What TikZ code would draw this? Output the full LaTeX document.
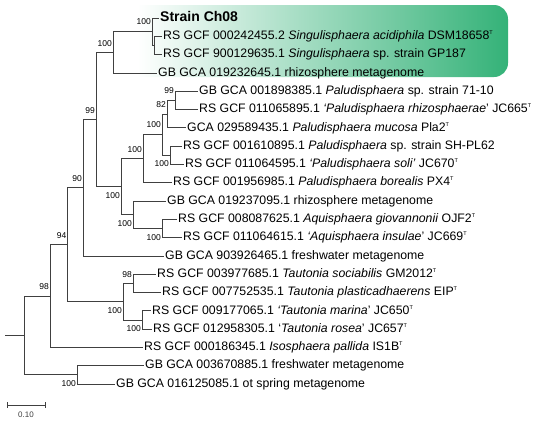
\documentclass[tikz,border=0pt]{standalone}
\usepackage{fontspec}
\setmainfont{Liberation Sans}
\usetikzlibrary{positioning}
\definecolor{cladegreen}{RGB}{52,178,120}
\pgfdeclarehorizontalshading{cladefade}{100bp}{color(0bp)=(white); color(29bp)=(white);
color(75bp)=(cladegreen); color(100bp)=(cladegreen)}
\tikzstyle{leaf} = [anchor=west, inner sep=1.5pt, text height=9pt, text depth=2.6pt,
font=\fontsize{12.3}{14}\selectfont]
\tikzstyle{boot} = [anchor=east, inner sep=1pt, font=\fontsize{8.5}{9}\selectfont]
\tikzstyle{bsup} = [boot, yshift=9pt]
\tikzstyle{bsdown} = [boot, yshift=-8.7pt]
\tikzstyle{branch} = [draw, line width=0.8pt, black!75]
\newcommand{\tstrain}{\raisebox{5pt}{\fontsize{5.5}{6}\selectfont T}}

\begin{document}
\begin{tikzpicture}[x=1pt, y=-1pt]
	\useasboundingbox (0,0) rectangle (550,424);
	
	% Highlighted clade
	\shade[shading=cladefade, rounded corners=14pt] (105,5) rectangle (508,77);
	
	% Internal nodes
	\coordinate (stem) at (5,335.4);
	\coordinate (root) at (24,335.4);
	\coordinate (n98a) at (50,296);
	\coordinate (nout) at (77,374.85);
	\coordinate (n94) at (67.5,244.7);
	\coordinate (n90) at (83,187.7);
	\coordinate (n99) at (96,119.5);
	\coordinate (nsing) at (113,52.3);
	\coordinate (nch) at (152,31.7);
	\coordinate (nsa) at (154.5,45.45);
	\coordinate (npa) at (121,186.7);
	\coordinate (npal) at (143,158.7);
	\coordinate (ncrown) at (162,134.7);
	\coordinate (n82) at (167,114.1);
	\coordinate (n99b) at (175,100.35);
	\coordinate (nsoli) at (170,155.25);
	\coordinate (naq) at (133,214.7);
	\coordinate (naqgen) at (162,228.45);
	\coordinate (ntau) at (123,301.65);
	\coordinate (n98b) at (133,283.35);
	\coordinate (nmr) at (142,319.95);
	
	% Leaves
	\node [leaf, font=\fontsize{14}{16}\selectfont\bfseries] (ch08) at (158.5,18) {Strain Ch08};
	\node [leaf] (sacid) at (161.5,36.3) {RS GCF 000242455.2 \textit{Singulisphaera acidiphila} DSM18658\tstrain};
	\node [leaf] (sgp) at (161.5,54.6) {RS GCF 900129635.1 \textit{Singulisphaera} sp. strain GP187};
	\node [leaf] (rhizoa) at (156.5,72.9) {GB GCA 019232645.1 rhizosphere metagenome};
	\node [leaf] (p7110) at (197.5,91.2) {GB GCA 001898385.1 \textit{Paludisphaera} sp. strain 71-10};
	\node [leaf] (prhizo) at (197.5,109.5) {RS GCF 011065895.1 \textit{‘Paludisphaera rhizosphaerae}’ JC665\tstrain};
	\node [leaf] (pmuc) at (185.5,127.8) {GCA 029589435.1 \textit{Paludisphaera mucosa} Pla2\tstrain};
	\node [leaf] (psh) at (181.5,146.1) {RS GCF 001610895.1 \textit{Paludisphaera} sp. strain SH-PL62};
	\node [leaf] (psoli) at (183.5,164.4) {RS GCF 011064595.1 \textit{‘Paludisphaera soli’} JC670\tstrain};
	\node [leaf] (pbor) at (171.5,182.7) {RS GCF 001956985.1 \textit{Paludisphaera borealis} PX4\tstrain};
	\node [leaf] (rhizob) at (165.5,201) {GB GCA 019237095.1 rhizosphere metagenome};
	\node [leaf] (agio) at (176.5,219.3) {RS GCF 008087625.1 \textit{Aquisphaera giovannonii} OJF2\tstrain};
	\node [leaf] (ains) at (181.5,237.6) {RS GCF 011064615.1 \textit{‘Aquisphaera insulae}’ JC669\tstrain};
	\node [leaf] (fresha) at (163.5,255.9) {GB GCA 903926465.1 freshwater metagenome};
	\node [leaf] (tsoc) at (155.5,274.2) {RS GCF 003977685.1 \textit{Tautonia sociabilis} GM2012\tstrain};
	\node [leaf] (tpla) at (160.5,292.5) {RS GCF 007752535.1 \textit{Tautonia plasticadhaerens} EIP\tstrain};
	\node [leaf] (tmar) at (150.5,310.8) {RS GCF 009177065.1 \textit{‘Tautonia marina}’ JC650\tstrain};
	\node [leaf] (tros) at (151.5,329.1) {RS GCF 012958305.1 ‘\textit{Tautonia rosea}’ JC657\tstrain};
	\node [leaf] (ipal) at (142.5,347.4) {RS GCF 000186345.1 \textit{Isosphaera pallida} IS1B\tstrain};
	\node [leaf] (freshb) at (143.5,365.7) {GB GCA 003670885.1 freshwater metagenome};
	\node [leaf] (hotsp) at (114.5,384) {GB GCA 016125085.1 ot spring metagenome};
	
	% Branches
	\path [branch] (stem) -- (root);
	\path [branch] (root) |- (n98a);
	\path [branch] (root) |- (nout);
	\path [branch] (nout) |- (freshb.west);
	\path [branch] (nout) |- (hotsp.west);
	\path [branch] (n98a) |- (n94);
	\path [branch] (n98a) |- (ipal.west);
	\path [branch] (n94) |- (n90);
	\path [branch] (n94) |- (ntau);
	\path [branch] (ntau) |- (n98b);
	\path [branch] (ntau) |- (nmr);
	\path [branch] (n98b) |- (tsoc.west);
	\path [branch] (n98b) |- (tpla.west);
	\path [branch] (nmr) |- (tmar.west);
	\path [branch] (nmr) |- (tros.west);
	\path [branch] (n90) |- (n99);
	\path [branch] (n90) |- (fresha.west);
	\path [branch] (n99) |- (nsing);
	\path [branch] (n99) |- (npa);
	\path [branch] (nsing) |- (nch);
	\path [branch] (nsing) |- (rhizoa.west);
	\path [branch] (nch) |- (ch08.west);
	\path [branch] (nch) |- (nsa);
	\path [branch] (nsa) |- (sacid.west);
	\path [branch] (nsa) |- (sgp.west);
	\path [branch] (npa) |- (npal);
	\path [branch] (npa) |- (naq);
	\path [branch] (npal) |- (ncrown);
	\path [branch] (npal) |- (pbor.west);
	\path [branch] (ncrown) |- (n82);
	\path [branch] (ncrown) |- (nsoli);
	\path [branch] (n82) |- (n99b);
	\path [branch] (n82) |- (pmuc.west);
	\path [branch] (n99b) |- (p7110.west);
	\path [branch] (n99b) |- (prhizo.west);
	\path [branch] (nsoli) |- (psh.west);
	\path [branch] (nsoli) |- (psoli.west);
	\path [branch] (naq) |- (rhizob.west);
	\path [branch] (naq) |- (naqgen);
	\path [branch] (naqgen) |- (agio.west);
	\path [branch] (naqgen) |- (ains.west);
	
	% Bootstrap values
	\node [bsup] at (n98a) {98};
	\node [bsdown] at (nout) {100};
	\node [bsup] at (n94) {94};
	\node [bsup] at (n90) {90};
	\node [bsup] at (n99) {99};
	\node [bsup] at (nsing) {100};
	\node [bsup, yshift=1pt] at (nch) {100};
	\node [bsdown] at (npa) {100};
	\node [bsup] at (npal) {100};
	\node [bsup, yshift=1pt] at (ncrown) {100};
	\node [bsup, yshift=1pt] at (n82) {82};
	\node [bsup, yshift=1pt] at (n99b) {99};
	\node [bsdown] at (nsoli) {100};
	\node [bsdown] at (naq) {100};
	\node [bsdown] at (naqgen) {100};
	\node [bsdown] at (ntau) {100};
	\node [bsup] at (n98b) {98};
	\node [bsdown] at (nmr) {100};
	
	% Scale bar
	\coordinate (sbleft) at (7,405);
	\coordinate (sbright) at (45,405);
	\draw [line width=0.8pt, black!75] (sbleft) -- (sbright)
	node [midway, below=6pt, inner sep=1pt, font=\fontsize{8}{9}\selectfont] {0.10};
	\draw [line width=0.8pt, black!75] ([yshift=3pt]sbleft) -- ([yshift=-3pt]sbleft);
	\draw [line width=0.8pt, black!75] ([yshift=3pt]sbright) -- ([yshift=-3pt]sbright);
	
\end{tikzpicture}
\end{document}
